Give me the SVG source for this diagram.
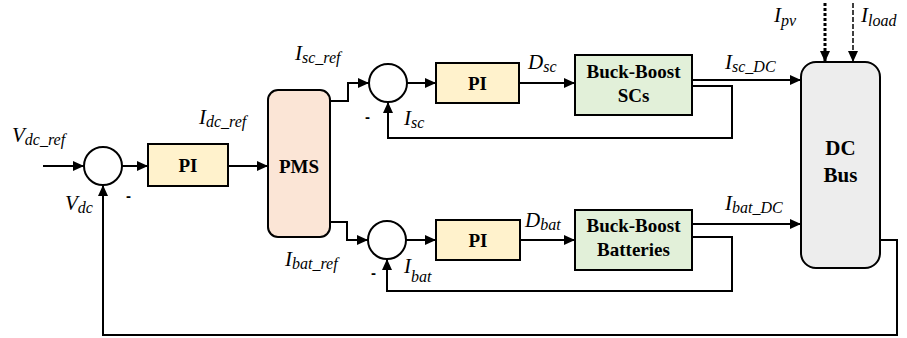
<svg xmlns="http://www.w3.org/2000/svg" width="907" height="338" viewBox="0 0 907 338">
<style>
.ln{fill:none;stroke:#000;stroke-width:2}
.box{stroke:#000;stroke-width:2}
.pi{fill:#FFF2CC}
.pms{fill:#FBE5D6}
.bb{fill:#E2F0D9}
.bus{fill:#EDEDED}
.sum{fill:#fff;stroke:#000;stroke-width:2}
.bt{font-family:"Liberation Serif",serif;font-weight:bold;font-size:19px;text-anchor:middle;fill:#000}
.lb{font-family:"Liberation Serif",serif;font-style:italic;font-size:21px;fill:#000}
.sb{font-size:16px}
.mn{font-family:"Liberation Sans",sans-serif;font-weight:bold;font-size:15px;fill:#000}
</style>
<defs>
<marker id="ah" markerUnits="userSpaceOnUse" markerWidth="12" markerHeight="10" refX="11" refY="5" orient="auto">
<path d="M0,0 L11,5 L0,10 Z" fill="#000"/>
</marker>
</defs>
<g id="connectors">
<path class="ln" d="M43,166 H84" marker-end="url(#ah)"/>
<path class="ln" d="M122,166 H148" marker-end="url(#ah)"/>
<path class="ln" d="M228,166 H268" marker-end="url(#ah)"/>
<path class="ln" d="M330,101 H348 V83 H369" marker-end="url(#ah)"/>
<path class="ln" d="M407,83 H436" marker-end="url(#ah)"/>
<path class="ln" d="M519,83 H575" marker-end="url(#ah)"/>
<path class="ln" d="M692,80 H801" marker-end="url(#ah)"/>
<path class="ln" d="M692,86 H732 V138 H388 V102" marker-end="url(#ah)"/>
<path class="ln" d="M330,222 H347 V240 H368" marker-end="url(#ah)"/>
<path class="ln" d="M406,240 H436" marker-end="url(#ah)"/>
<path class="ln" d="M520,240 H575" marker-end="url(#ah)"/>
<path class="ln" d="M692,224 H801" marker-end="url(#ah)"/>
<path class="ln" d="M692,237 H732 V291 H387 V259" marker-end="url(#ah)"/>
<path class="ln" d="M880,240 H897 V335 H103 V185" marker-end="url(#ah)"/>
<path d="M825,3 V62" fill="none" stroke="#000" stroke-width="3" stroke-dasharray="3,2" marker-end="url(#ah)"/>
<path d="M853,3 V62" fill="none" stroke="#000" stroke-width="1.5" stroke-dasharray="5,2" marker-end="url(#ah)"/>
</g>
<g id="sum1"><circle class="sum" cx="103" cy="166" r="19"/><text class="mn" x="126" y="201">-</text></g>
<g id="pi1"><rect class="box pi" x="148" y="144" width="80" height="42"/><text class="bt" x="188" y="172">PI</text></g>
<g id="pms"><rect class="box pms" x="268" y="90" width="62" height="147" rx="10"/><text class="bt" x="299" y="173">PMS</text></g>
<g id="sum_sc"><circle class="sum" cx="388" cy="83" r="19"/><text class="mn" x="365" y="122">-</text></g>
<g id="pi_sc"><rect class="box pi" x="436" y="63" width="83" height="40"/><text class="bt" x="477.5" y="90">PI</text></g>
<g id="bb_sc"><rect class="box bb" x="575" y="55" width="117" height="60"/><text class="bt" x="633.5" y="78">Buck-Boost</text><text class="bt" x="633.5" y="102">SCs</text></g>
<g id="sum_bat"><circle class="sum" cx="387" cy="240" r="19"/><text class="mn" x="371" y="278">-</text></g>
<g id="pi_bat"><rect class="box pi" x="436" y="220" width="84" height="40"/><text class="bt" x="478" y="247">PI</text></g>
<g id="bb_bat"><rect class="box bb" x="575" y="210" width="117" height="60"/><text class="bt" x="633.5" y="232">Buck-Boost</text><text class="bt" x="633.5" y="256">Batteries</text></g>
<g id="dcbus"><rect class="box bus" x="801" y="62" width="79" height="206" rx="15"/><text class="bt" x="840.5" y="155" style="font-size:21px">DC</text><text class="bt" x="840.5" y="182" style="font-size:21px">Bus</text></g>
<g id="labels">
<text class="lb" x="12" y="142">V<tspan class="sb" dy="3">dc_ref</tspan></text>
<text class="lb" x="65" y="210">V<tspan class="sb" dy="3">dc</tspan></text>
<text class="lb" x="199" y="124">I<tspan class="sb" dy="3">dc_ref</tspan></text>
<text class="lb" x="295" y="60">I<tspan class="sb" dy="3">sc_ref</tspan></text>
<text class="lb" x="528" y="69">D<tspan class="sb" dy="3">sc</tspan></text>
<text class="lb" x="404" y="125">I<tspan class="sb" dy="3">sc</tspan></text>
<text class="lb" x="285" y="266">I<tspan class="sb" dy="3">bat_ref</tspan></text>
<text class="lb" x="525" y="227">D<tspan class="sb" dy="3">bat</tspan></text>
<text class="lb" x="404" y="273">I<tspan class="sb" dy="9">bat</tspan></text>
<text class="lb" x="725" y="69">I<tspan class="sb" dy="3">sc_DC</tspan></text>
<text class="lb" x="725" y="210">I<tspan class="sb" dy="3">bat_DC</tspan></text>
<text class="lb" x="774" y="22">I<tspan class="sb" dy="4">pv</tspan></text>
<text class="lb" x="861" y="22">I<tspan class="sb" dy="4">load</tspan></text>
</g>
</svg>
